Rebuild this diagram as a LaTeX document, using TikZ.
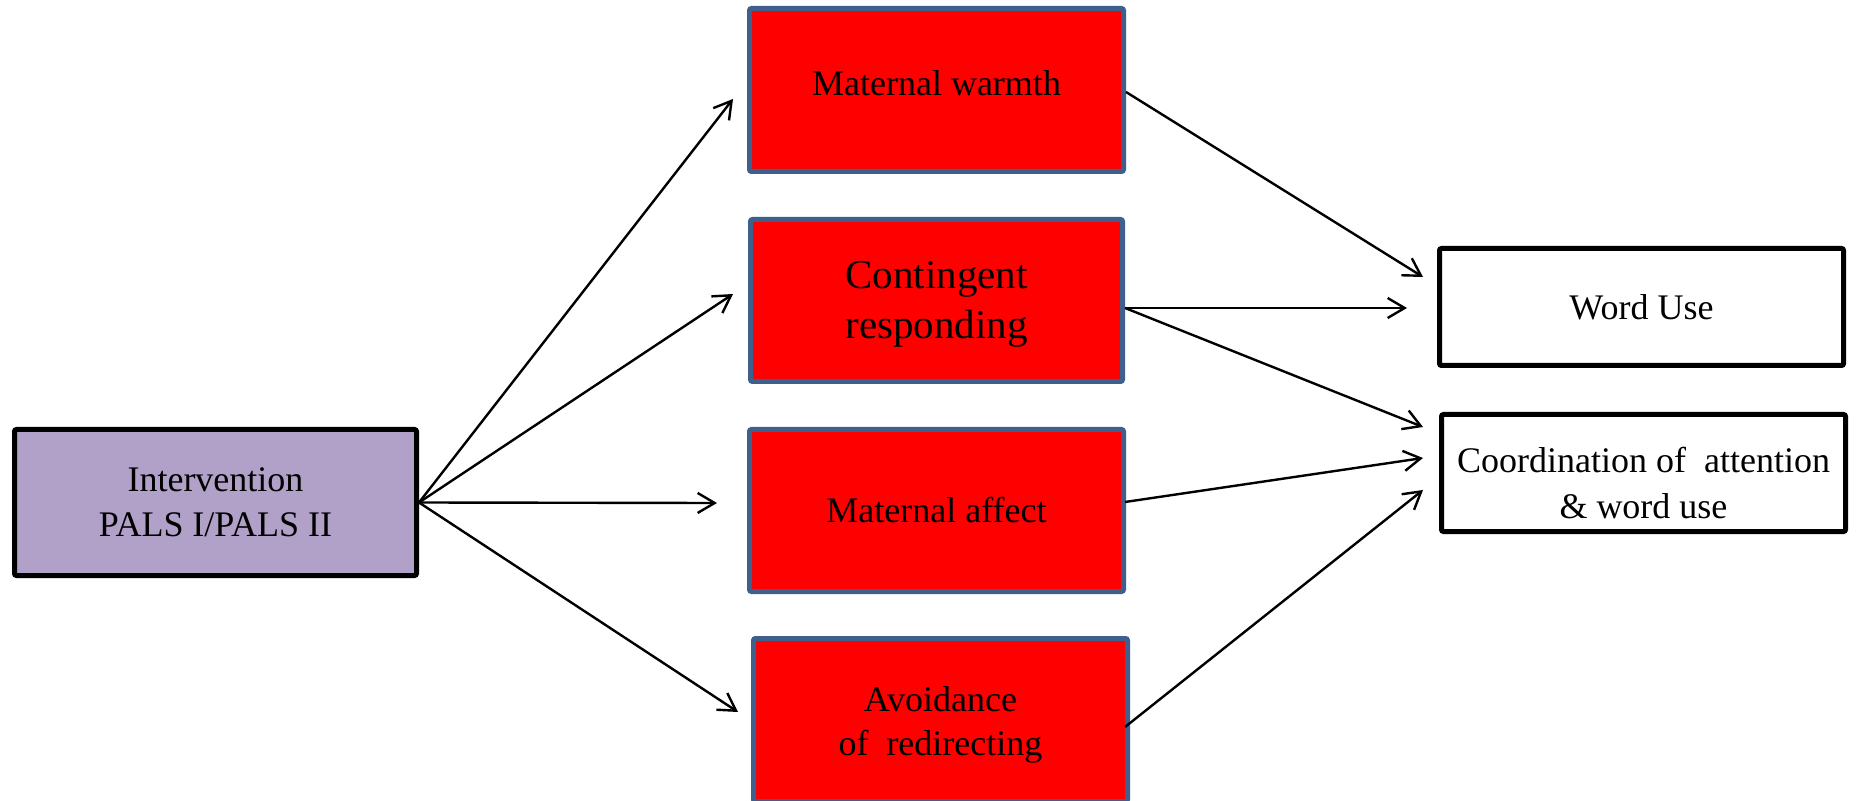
\documentclass[tikz,border=0pt]{standalone}
\usepackage{fontspec}
\setmainfont{Liberation Serif}
\usetikzlibrary{arrows.meta,calc}
\definecolor{redfill}{RGB}{255,0,0}
\definecolor{blueedge}{RGB}{63,95,140}
\definecolor{lavender}{RGB}{177,160,199}
\tikzset{
  redbox/.style={draw=blueedge, fill=redfill, line width=2.5pt, rounded corners=1pt, inner sep=0pt},
  blackbox/.style={draw=black, line width=2.5pt, rounded corners=1pt, inner sep=0pt},
  txt/.style={align=center, inner sep=0pt},
  conn/.style={line width=1.2pt, -{Straight Barb[length=8.5pt,width=10pt,line width=1.2pt]}}
}
\begin{document}
\begin{tikzpicture}[x=0.5pt,y=-0.5pt]
\useasboundingbox (0,0) rectangle (1856,801);
\clip (0,0) rectangle (1856,801);
\fill[white] (0,0) rectangle (1856,801);

% boxes
\node[blackbox, fill=lavender, minimum width=201pt, minimum height=73pt] (interv) at (215.5,502.5) {};
\node[redbox, minimum width=187pt, minimum height=81.5pt] (warmth) at (936.5,90) {};
\node[redbox, minimum width=186pt, minimum height=81pt] (cont) at (936.5,300.5) {};
\node[redbox, minimum width=187pt, minimum height=81pt] (affect) at (936.5,510.5) {};
\node[redbox, minimum width=187pt, minimum height=81.5pt] (avoid) at (940.5,720) {};
\node[blackbox, fill=white, minimum width=202pt, minimum height=58.5pt] (word) at (1641.5,307) {};
\node[blackbox, fill=white, minimum width=202pt, minimum height=58.5pt] (coord) at (1643.5,473) {};

% texts
\node[txt, font=\fontsize{18}{22.5}\selectfont] (intervT) at (interv.center) {Intervention\\PALS I/PALS II};
\node[txt, font=\fontsize{18}{22}\selectfont] (warmthT) at ($(warmth.center)+(0,-7)$) {Maternal warmth};
\node[txt, font=\fontsize{20.5}{25}\selectfont] (contT) at ($(cont.center)+(0,4)$) {Contingent\\responding};
\node[txt, font=\fontsize{18}{22}\selectfont] (affectT) at (affect.center) {Maternal affect};
\node[txt, font=\fontsize{18}{22}\selectfont] (avoidT) at ($(avoid.center)+(0,5)$) {Avoidance\\of\ \ redirecting};
\node[txt, font=\fontsize{18}{23}\selectfont] (wordT) at (word.center) {Word Use};
\node[txt, font=\fontsize{18}{23}\selectfont] (coordT) at ($(coord.center)+(0,10)$) {Coordination of\ \ attention\\\& word use};

% left fan
\draw[conn] (interv.east) -- ($(warmth.west)+(-14,9)$);
\draw[conn] (interv.east) -- ($(cont.west)+(-15,-6.5)$);
\draw[conn] (interv.east) -- ($(affect.west)+(-30,-7.5)$);
\draw[conn] (interv.east) -- ($(avoid.west)+(-13,-8)$);

% right connections
\draw[conn] ($(warmth.east)+(0,2)$) -- ($(word.west)+(-14,-30)$);
\draw[conn] ($(cont.east)+(0,7.5)$) -- ($(word.west)+(-30,1)$);
\draw[conn] ($(cont.east)+(0,7.5)$) -- ($(coord.west)+(-16,-46)$);
\draw[conn] ($(affect.east)+(-1,-8.5)$) -- ($(coord.west)+(-16,-15)$);
\draw[conn] ($(avoid.east)+(-5,7)$) -- ($(coord.west)+(-16,17)$);
\end{tikzpicture}
\end{document}
